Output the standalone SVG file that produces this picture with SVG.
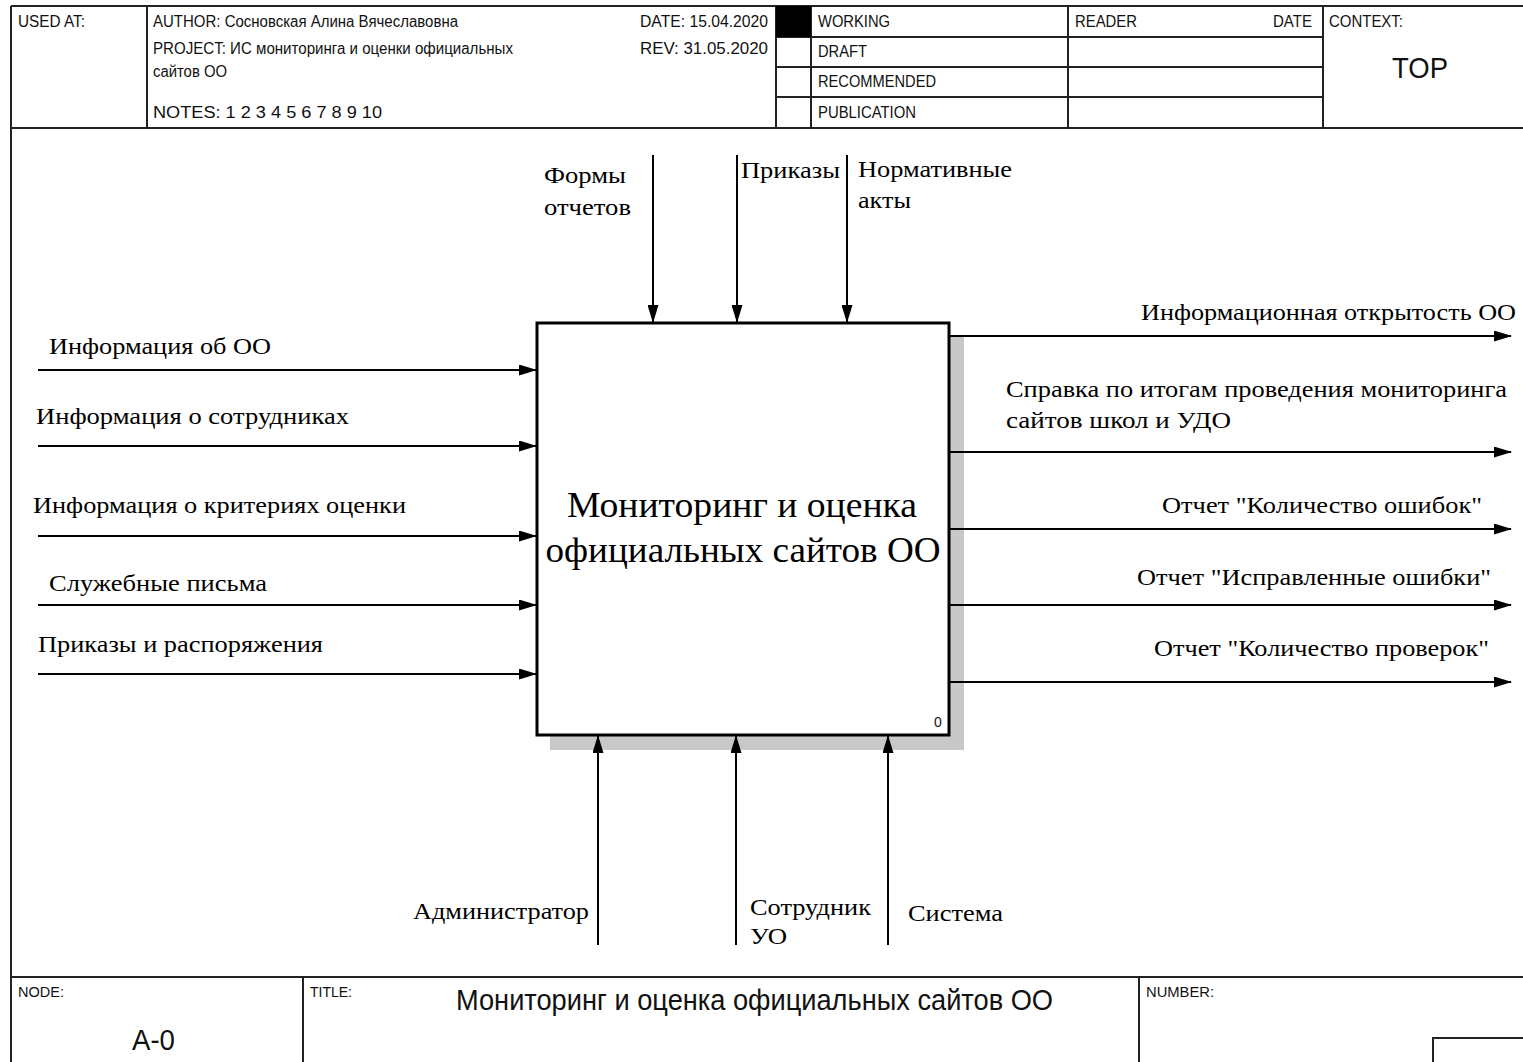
<svg xmlns="http://www.w3.org/2000/svg" width="1523" height="1062" viewBox="0 0 1523 1062">
<style>
.frame{fill:none;stroke:#222;stroke-width:2}
.hd{font-family:"Liberation Sans",Arial,sans-serif;font-size:16px;fill:#111}
.lbl{font-family:"Liberation Serif","Times New Roman",serif;font-size:23px;fill:#000}
.arr{fill:none;stroke:#000;stroke-width:2}
</style>
<defs>
<marker id="ah" markerWidth="18" markerHeight="11" refX="17" refY="5.5" orient="auto" markerUnits="userSpaceOnUse">
<path d="M0,0 L18,5.5 L0,11 z" fill="#000"/>
</marker>
</defs>
<rect width="1523" height="1062" fill="#fff"/>
<g id="header">
<line class="frame" x1="11" y1="6" x2="1523" y2="6"/>
<line class="frame" x1="11" y1="6" x2="11" y2="1062"/>
<line class="frame" x1="11" y1="128" x2="1523" y2="128"/>
<line class="frame" x1="147" y1="6" x2="147" y2="128"/>
<line class="frame" x1="776" y1="6" x2="776" y2="128"/>
<line class="frame" x1="811" y1="6" x2="811" y2="128"/>
<line class="frame" x1="1068" y1="6" x2="1068" y2="128"/>
<line class="frame" x1="1323" y1="6" x2="1323" y2="128"/>
<line class="frame" x1="776" y1="37" x2="1323" y2="37"/>
<line class="frame" x1="776" y1="67" x2="1323" y2="67"/>
<line class="frame" x1="776" y1="97" x2="1323" y2="97"/>
<rect x="776" y="6" width="35" height="31" fill="#000"/>
<text class="hd" x="18" y="27" textLength="67" lengthAdjust="spacingAndGlyphs">USED AT:</text>
<text class="hd" x="153" y="27" textLength="305" lengthAdjust="spacingAndGlyphs">AUTHOR:  Сосновская Алина Вячеславовна</text>
<text class="hd" x="153" y="54" textLength="360" lengthAdjust="spacingAndGlyphs">PROJECT:  ИС мониторинга и оценки официальных</text>
<text class="hd" x="153" y="77" textLength="74" lengthAdjust="spacingAndGlyphs">сайтов ОО</text>
<text class="hd" x="153" y="118" textLength="229" lengthAdjust="spacingAndGlyphs">NOTES:  1  2  3  4  5  6  7  8  9  10</text>
<text class="hd" x="640" y="27" textLength="128" lengthAdjust="spacingAndGlyphs">DATE:  15.04.2020</text>
<text class="hd" x="640" y="54" textLength="128" lengthAdjust="spacingAndGlyphs">REV:    31.05.2020</text>
<text class="hd" x="818" y="27" textLength="72" lengthAdjust="spacingAndGlyphs">WORKING</text>
<text class="hd" x="818" y="57" textLength="49" lengthAdjust="spacingAndGlyphs">DRAFT</text>
<text class="hd" x="818" y="87" textLength="118" lengthAdjust="spacingAndGlyphs">RECOMMENDED</text>
<text class="hd" x="818" y="118" textLength="98" lengthAdjust="spacingAndGlyphs">PUBLICATION</text>
<text class="hd" x="1075" y="27" textLength="62" lengthAdjust="spacingAndGlyphs">READER</text>
<text class="hd" x="1273" y="27" textLength="39" lengthAdjust="spacingAndGlyphs">DATE</text>
<text class="hd" x="1329" y="27" textLength="74" lengthAdjust="spacingAndGlyphs">CONTEXT:</text>
<text class="hd" x="1392" y="78" style="font-size:30px" textLength="56" lengthAdjust="spacingAndGlyphs">TOP</text>
</g>
<g id="footer">
<line class="frame" x1="11" y1="977" x2="1523" y2="977"/>
<line class="frame" x1="303" y1="977" x2="303" y2="1062"/>
<line class="frame" x1="1139" y1="977" x2="1139" y2="1062"/>
<polyline class="frame" points="1433,1062 1433,1038 1523,1038"/>
<text class="hd" x="18" y="997" style="font-size:15px" textLength="46" lengthAdjust="spacingAndGlyphs">NODE:</text>
<text class="hd" x="132" y="1050" style="font-size:29px" textLength="43" lengthAdjust="spacingAndGlyphs">A-0</text>
<text class="hd" x="310" y="997" style="font-size:15px" textLength="42" lengthAdjust="spacingAndGlyphs">TITLE:</text>
<text class="hd" x="456" y="1010" style="font-size:30px" textLength="597" lengthAdjust="spacingAndGlyphs">Мониторинг и оценка официальных сайтов ОО</text>
<text class="hd" x="1146" y="997" style="font-size:15px" textLength="68" lengthAdjust="spacingAndGlyphs">NUMBER:</text>
</g>
<g id="node0">
<rect x="550" y="336" width="414" height="414" fill="#c8c8c8"/>
<rect x="537" y="323" width="412" height="412" fill="#fff" stroke="#000" stroke-width="3"/>
<text class="lbl" x="742" y="517" text-anchor="middle" style="font-size:35px" textLength="350" lengthAdjust="spacingAndGlyphs">Мониторинг и оценка</text>
<text class="lbl" x="743" y="562" text-anchor="middle" style="font-size:35px" textLength="395" lengthAdjust="spacingAndGlyphs">официальных сайтов ОО</text>
<text class="hd" x="934" y="727" style="font-size:14px">0</text>
</g>
<g id="connectors">
<line class="arr" x1="38" y1="370" x2="536" y2="370" marker-end="url(#ah)"/>
<line class="arr" x1="38" y1="446" x2="536" y2="446" marker-end="url(#ah)"/>
<line class="arr" x1="38" y1="536" x2="536" y2="536" marker-end="url(#ah)"/>
<line class="arr" x1="38" y1="605" x2="536" y2="605" marker-end="url(#ah)"/>
<line class="arr" x1="38" y1="674" x2="536" y2="674" marker-end="url(#ah)"/>
<line class="arr" x1="653" y1="155" x2="653" y2="322" marker-end="url(#ah)"/>
<line class="arr" x1="737" y1="155" x2="737" y2="322" marker-end="url(#ah)"/>
<line class="arr" x1="847" y1="155" x2="847" y2="322" marker-end="url(#ah)"/>
<line class="arr" x1="949" y1="336" x2="1511" y2="336" marker-end="url(#ah)"/>
<line class="arr" x1="949" y1="452" x2="1511" y2="452" marker-end="url(#ah)"/>
<line class="arr" x1="949" y1="529" x2="1511" y2="529" marker-end="url(#ah)"/>
<line class="arr" x1="949" y1="605" x2="1511" y2="605" marker-end="url(#ah)"/>
<line class="arr" x1="949" y1="682" x2="1511" y2="682" marker-end="url(#ah)"/>
<line class="arr" x1="598" y1="945" x2="598" y2="736" marker-end="url(#ah)"/>
<line class="arr" x1="736" y1="945" x2="736" y2="736" marker-end="url(#ah)"/>
<line class="arr" x1="888" y1="945" x2="888" y2="736" marker-end="url(#ah)"/>
</g>
<g id="labels">
<text class="lbl" x="49" y="354" textLength="222" lengthAdjust="spacingAndGlyphs">Информация об ОО</text>
<text class="lbl" x="36" y="424" textLength="313" lengthAdjust="spacingAndGlyphs">Информация о сотрудниках</text>
<text class="lbl" x="33" y="513" textLength="373" lengthAdjust="spacingAndGlyphs">Информация о критериях оценки</text>
<text class="lbl" x="49" y="591" textLength="218" lengthAdjust="spacingAndGlyphs">Служебные письма</text>
<text class="lbl" x="38" y="652" textLength="285" lengthAdjust="spacingAndGlyphs">Приказы и распоряжения</text>
<text class="lbl" x="544" y="183" textLength="82" lengthAdjust="spacingAndGlyphs">Формы</text>
<text class="lbl" x="544" y="215" textLength="87" lengthAdjust="spacingAndGlyphs">отчетов</text>
<text class="lbl" x="741" y="178" textLength="99" lengthAdjust="spacingAndGlyphs">Приказы</text>
<text class="lbl" x="858" y="177" textLength="154" lengthAdjust="spacingAndGlyphs">Нормативные</text>
<text class="lbl" x="858" y="208" textLength="53" lengthAdjust="spacingAndGlyphs">акты</text>
<text class="lbl" x="1141" y="320" textLength="375" lengthAdjust="spacingAndGlyphs">Информационная открытость ОО</text>
<text class="lbl" x="1006" y="397" textLength="501" lengthAdjust="spacingAndGlyphs">Справка по итогам проведения мониторинга</text>
<text class="lbl" x="1006" y="428" textLength="225" lengthAdjust="spacingAndGlyphs">сайтов школ и УДО</text>
<text class="lbl" x="1162" y="513" textLength="320" lengthAdjust="spacingAndGlyphs">Отчет "Количество ошибок"</text>
<text class="lbl" x="1137" y="585" textLength="354" lengthAdjust="spacingAndGlyphs">Отчет "Исправленные ошибки"</text>
<text class="lbl" x="1154" y="656" textLength="335" lengthAdjust="spacingAndGlyphs">Отчет "Количество проверок"</text>
<text class="lbl" x="413" y="919" textLength="176" lengthAdjust="spacingAndGlyphs">Администратор</text>
<text class="lbl" x="750" y="915" textLength="121" lengthAdjust="spacingAndGlyphs">Сотрудник</text>
<text class="lbl" x="750" y="944" textLength="37" lengthAdjust="spacingAndGlyphs">УО</text>
<text class="lbl" x="908" y="921" textLength="95" lengthAdjust="spacingAndGlyphs">Система</text>
</g>
</svg>
